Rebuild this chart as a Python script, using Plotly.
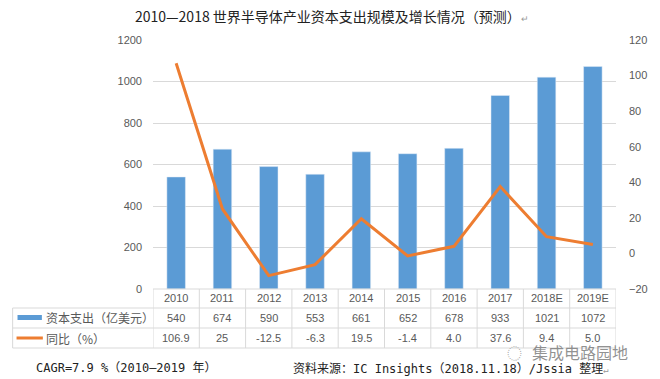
import plotly.graph_objects as go

categories = ["2010", "2011", "2012", "2013", "2014", "2015", "2016", "2017", "2018E", "2019E"]
capex = [540, 674, 590, 553, 661, 652, 678, 933, 1021, 1072]
capex_text = ["540", "674", "590", "553", "661", "652", "678", "933", "1021", "1072"]
yoy = [106.9, 25, -12.5, -6.3, 19.5, -1.4, 4.0, 37.6, 9.4, 5.0]
yoy_text = ["106.9", "25", "-12.5", "-6.3", "19.5", "-1.4", "4.0", "37.6", "9.4", "5.0"]
series_names = ["资本支出（亿美元）", "同比（%）"]
title_text = "2010—2018 世界半导体产业资本支出规模及增长情况（预测）"
footer_left = "CAGR=7.9 %（2010—2019 年）"
footer_right = "资料来源：IC Insights（2018.11.18）/Jssia 整理"
watermark = "集成电路园地"

BLUE = "#5B9BD5"
ORANGE = "#ED7D31"
GRID = "#D9D9D9"
TXT = "#595959"
FONT = "Liberation Sans, Noto Sans CJK SC, sans-serif"
CJK = "Noto Sans CJK SC, sans-serif"

W, H = 660, 379
L, R, T, B = 153, 32, 40, 90
PW = W - L - R
PH = H - T - B


def py(y):
    return (H - B - y) / PH


def px(x):
    return (x - L) / PW


fig = go.Figure()
fig.add_trace(go.Bar(x=categories, y=capex, name=series_names[0], marker_color=BLUE,
                     width=0.4, yaxis="y"))
fig.add_trace(go.Scatter(x=categories, y=yoy, name=series_names[1], mode="lines",
                         line=dict(color=ORANGE, width=3), yaxis="y2"))

shapes = []
ann = []

# table lines
row_lines = [308, 328, 348]
for yy in row_lines:
    shapes.append(dict(type="line", xref="paper", yref="paper", x0=px(9), x1=1,
                       y0=py(yy), y1=py(yy), line=dict(color=GRID, width=1)))
shapes.append(dict(type="line", xref="paper", yref="paper", x0=0, x1=1,
                   y0=py(289), y1=py(289), line=dict(color=GRID, width=1)))
for i in range(len(categories) + 1):
    shapes.append(dict(type="line", xref="x", yref="paper", x0=i - 0.5, x1=i - 0.5,
                       y0=py(289), y1=py(348), line=dict(color=GRID, width=1)))
shapes.append(dict(type="line", xref="paper", yref="paper", x0=px(9), x1=px(9),
                   y0=py(308), y1=py(348), line=dict(color=GRID, width=1)))

# legend keys in table
shapes.append(dict(type="rect", xref="paper", yref="paper", x0=px(14), x1=px(39),
                   y0=py(320), y1=py(315), fillcolor=BLUE, line=dict(width=0)))
shapes.append(dict(type="line", xref="paper", yref="paper", x0=px(13), x1=px(40),
                   y0=py(338), y1=py(338), line=dict(color=ORANGE, width=3)))

ann.append(dict(text=series_names[0], xref="paper", yref="paper", x=px(41), y=py(317),
                xanchor="left", yanchor="middle", showarrow=False,
                font=dict(family=CJK, size=12, color=TXT)))
ann.append(dict(text=series_names[1], xref="paper", yref="paper", x=px(41), y=py(338),
                xanchor="left", yanchor="middle", showarrow=False,
                font=dict(family=CJK, size=12, color=TXT)))

for i, (c, v, g) in enumerate(zip(categories, capex_text, yoy_text)):
    for t, yy in ((c, 298), (v, 318), (g, 338)):
        ann.append(dict(text=t, xref="x", yref="paper", x=i, y=py(yy),
                        xanchor="center", yanchor="middle", showarrow=False,
                        font=dict(family=FONT, size=11, color=TXT)))

ann.append(dict(text=title_text + '<span style="font-size:9px;color:#999">↵</span>',
                xref="paper", yref="paper", x=px(132), y=py(16),
                xanchor="left", yanchor="middle", showarrow=False,
                font=dict(family=CJK, size=14, color="#222222")))

ann.append(dict(text=watermark, xref="paper", yref="paper", x=px(540), y=py(352),
                xanchor="left", yanchor="middle", showarrow=False,
                font=dict(family=CJK, size=16, color="rgba(110,110,110,0.75)")))
ann.append(dict(text="◌", xref="paper", yref="paper", x=px(524), y=py(352),
                xanchor="center", yanchor="middle", showarrow=False,
                font=dict(family=CJK, size=15, color="rgba(140,140,140,0.7)")))

ann.append(dict(text=footer_left, xref="paper", yref="paper", x=px(31), y=py(368),
                xanchor="left", yanchor="middle", showarrow=False,
                font=dict(family="DejaVu Sans Mono, Noto Sans CJK SC", size=12, color="#222222")))
ann.append(dict(text=footer_right + '<span style="font-size:9px;color:#999">↵</span>',
                xref="paper", yref="paper", x=px(295), y=py(368),
                xanchor="left", yanchor="middle", showarrow=False,
                font=dict(family="DejaVu Sans Mono, Noto Sans CJK SC", size=12, color="#222222")))

fig.update_layout(
    width=W, height=H,
    margin=dict(l=L, r=R, t=T, b=B, pad=0),
    paper_bgcolor="white", plot_bgcolor="white",
    showlegend=False,
    bargap=0.6,
    xaxis=dict(type="category", range=[-0.5, 9.5], showticklabels=False,
               showgrid=False, zeroline=False, showline=False, ticks=""),
    yaxis=dict(range=[0, 1200], dtick=200, showgrid=True, gridcolor=GRID, gridwidth=1,
               zeroline=False, showline=False, ticks="", ticklabelstandoff=10,
               tickfont=dict(family=FONT, size=11, color=TXT)),
    yaxis2=dict(range=[-20, 120], dtick=20, overlaying="y", side="right", showgrid=False,
                zeroline=False, showline=False, ticks="", ticklabelstandoff=12,
                tickfont=dict(family=FONT, size=11, color=TXT)),
    shapes=shapes,
    annotations=ann,
)

fig.write_html("out.html", config={"displayModeBar": False},
               post_script="document.body.style.margin='0';document.body.style.overflow='hidden';")
